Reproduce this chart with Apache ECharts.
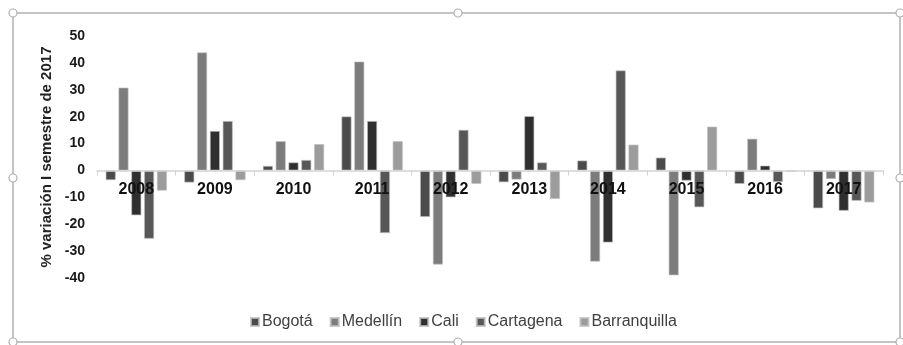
<!DOCTYPE html>
<html>
<head>
<meta charset="utf-8">
<script src="https://cdn.jsdelivr.net/npm/echarts@6/dist/echarts.min.js"></script>
<style>
html,body{margin:0;padding:0;background:#fff;}
#c{width:903px;height:345px;}
</style>
</head>
<body>
<div id="c"></div>
<script>
var years = ['2008','2009','2010','2011','2012','2013','2014','2015','2016','2017'];
var seriesNames = ['Bogotá','Medellín','Cali','Cartagena','Barranquilla'];
var bogota = [-3.6, -4.5, 1.7, 20.1, -17.3, -4.4, 3.7, 4.8, -5.0, -14.1];
var medellin = [30.8, 43.9, 10.9, 40.5, -35.0, -3.4, -33.9, -39.0, 11.8, -3.2];
var cali = [-16.7, 14.7, 3.0, 18.4, -10.0, 20.2, -26.8, -3.8, 1.8, -15.0];
var cartagena = [-25.4, 18.4, 3.9, -23.3, 15.1, 3.0, 37.2, -13.7, -4.3, -11.3];
var barranquilla = [-7.5, -3.6, 9.8, 10.9, -5.0, -10.6, 9.6, 16.3, -0.5, -11.9];
var yTicks = [-40, -30, -20, -10, 0, 10, 20, 30, 40, 50];

var colors = ['#4b4b4b', '#7c7c7c', '#2f2f2f', '#575757', '#9c9c9c'];
var values = [bogota, medellin, cali, cartagena, barranquilla];

var yMin = -40, yMax = 50;
var gridTop = 36, gridBottom = 67, H = 345;
var plotH = H - gridTop - gridBottom;
var zeroOffset = -plotH * (0 - yMin) / (yMax - yMin);

var chart = echarts.init(document.getElementById('c'), null, {renderer: 'canvas'});

var handles = [[13,13],[458,13],[900,13],[13,178],[900,178],[13,342],[458,342],[900,342]];
var graphic = [{
  type: 'rect', shape: {x: 13, y: 13, width: 887, height: 329},
  style: {fill: 'none', stroke: '#c4c4c4', lineWidth: 2}, z: -1
}];
handles.forEach(function(h){
  graphic.push({type: 'circle', shape: {cx: h[0], cy: h[1], r: 4},
    style: {fill: '#fff', stroke: '#b0b0b0', lineWidth: 1.2}, z: 5});
});

var series = seriesNames.map(function(n, i){
  return {
    name: n, type: 'bar', data: values[i],
    barCategoryGap: '22%', barGap: '27%',
    itemStyle: {color: colors[i], borderColor: 'rgba(190,190,190,0.8)', borderWidth: 0.8},
    emphasis: {disabled: true}
  };
});

chart.setOption({
  animation: false,
  textStyle: {fontFamily: 'Liberation Sans, Arial, sans-serif'},
  graphic: graphic,
  grid: {left: 97, right: 20, top: gridTop, bottom: gridBottom},
  legend: {
    data: seriesNames, left: 245, top: 309,
    icon: 'rect', itemWidth: 8, itemHeight: 8, itemGap: 17,
    textStyle: {fontSize: 16, color: '#404040', padding: [0,0,0,-2]}
  },
  xAxis: {
    type: 'category', data: years, z: 10, position: 'bottom', offset: zeroOffset,
    axisLine: {onZero: false, lineStyle: {color: '#d4d4d4', width: 1.5}},
    axisTick: {show: true, length: 5, lineStyle: {color: '#d4d4d4'}},
    axisLabel: {fontSize: 16, fontWeight: 'bold', color: '#111', margin: 11}
  },
  yAxis: {
    type: 'value', min: yMin, max: yMax, interval: 10,
    name: '% variación I semestre de 2017', nameLocation: 'middle', nameGap: 40,
    nameTextStyle: {fontSize: 15, color: '#222', fontWeight: 'bold'},
    axisLine: {show: false}, axisTick: {show: false}, splitLine: {show: false},
    axisLabel: {fontSize: 14, fontWeight: 'bold', color: '#1a1a1a', margin: 12,
      formatter: function(v){ return yTicks.indexOf(v) >= 0 ? String(v) : ''; }}
  },
  series: series
});
</script>
</body>
</html>
